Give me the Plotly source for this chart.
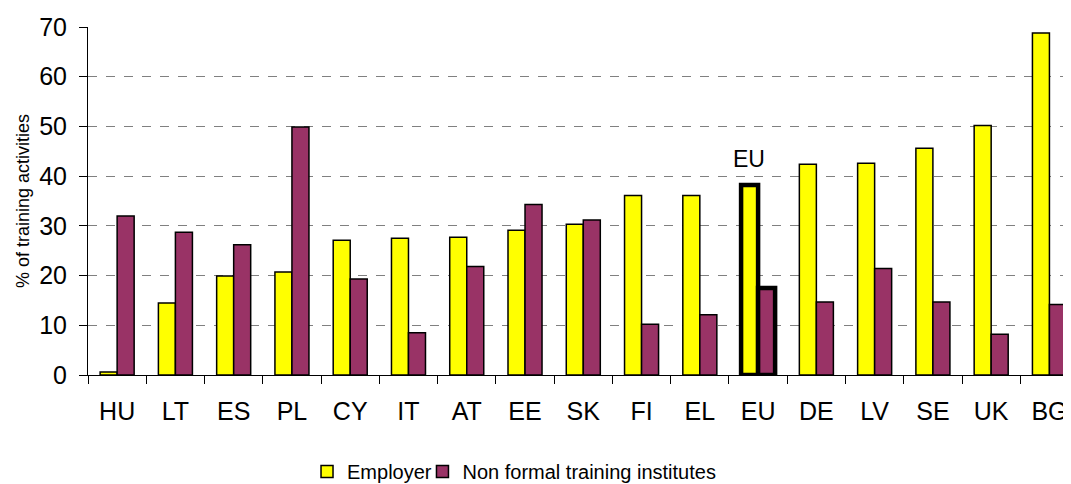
import plotly.graph_objects as go

countries = ["HU", "LT", "ES", "PL", "CY", "IT", "AT", "EE", "SK", "FI", "EL", "EU", "DE", "LV", "SE", "UK", "BG"]
employer = [0.6, 14.5, 19.9, 20.7, 27.1, 27.5, 27.7, 29.1, 30.3, 36.1, 36.1, 38.2, 42.4, 42.6, 45.6, 50.2, 68.8]
non_formal = [32.0, 28.7, 26.2, 49.9, 19.3, 8.5, 21.8, 34.3, 31.2, 10.2, 12.1, 17.5, 14.7, 21.4, 14.7, 8.2, 14.2]
y_ticks = [0, 10, 20, 30, 40, 50, 60, 70]

line_w = [4.5 if c == "EU" else 1.5 for c in countries]

fig = go.Figure()
fig.add_trace(go.Bar(x=countries, y=employer, name="Employer", legend="legend",
                     marker=dict(color="#FFFF00", line=dict(color="black", width=line_w))))
fig.add_trace(go.Bar(x=countries, y=non_formal, name="Non formal training institutes", legend="legend2",
                     marker=dict(color="#993366", line=dict(color="black", width=line_w))))

fig.add_annotation(x="EU", y=employer[countries.index("EU")], xref="x", yref="y",
                   text="EU", showarrow=False, yanchor="bottom", yshift=11, xshift=-9,
                   font=dict(size=23, color="black"))

legend_style = dict(orientation="h", xref="container", yref="container",
                    xanchor="left", y=0.026, yanchor="middle",
                    font=dict(size=20), itemwidth=30, bgcolor="rgba(0,0,0,0)")

# page body adds an 8px offset; figure is sized to fill the rest of the window
fig.update_layout(
    width=1063, height=476,
    margin=dict(l=80, r=0, t=19, b=109, autoexpand=False),
    paper_bgcolor="white", plot_bgcolor="white",
    barmode="group", bargap=0.416, bargroupgap=0,
    font=dict(family="Liberation Sans, Arial, sans-serif", color="black"),
    showlegend=True,
    legend=dict(x=0.2813, **legend_style),
    legend2=dict(x=0.3899, **legend_style),
    xaxis=dict(range=[-0.5, 16.37], showline=True, linecolor="black", linewidth=1,
               ticks="outside", tickson="boundaries", ticklen=8, tickcolor="black",
               tickfont=dict(size=25), showgrid=False, automargin=False,
               ticklabelstandoff=14),
    yaxis=dict(range=[0, 70], tickvals=y_ticks, showline=True, linecolor="black", linewidth=1,
               ticks="outside", ticklen=8, tickcolor="black", tickfont=dict(size=25),
               showgrid=True, gridcolor="#808080", griddash="dash", gridwidth=1.3,
               zeroline=False, automargin=False, ticklabelstandoff=7,
               title=dict(text="% of training activities", font=dict(size=18), standoff=4)),
)

fig.write_html("out.html")
